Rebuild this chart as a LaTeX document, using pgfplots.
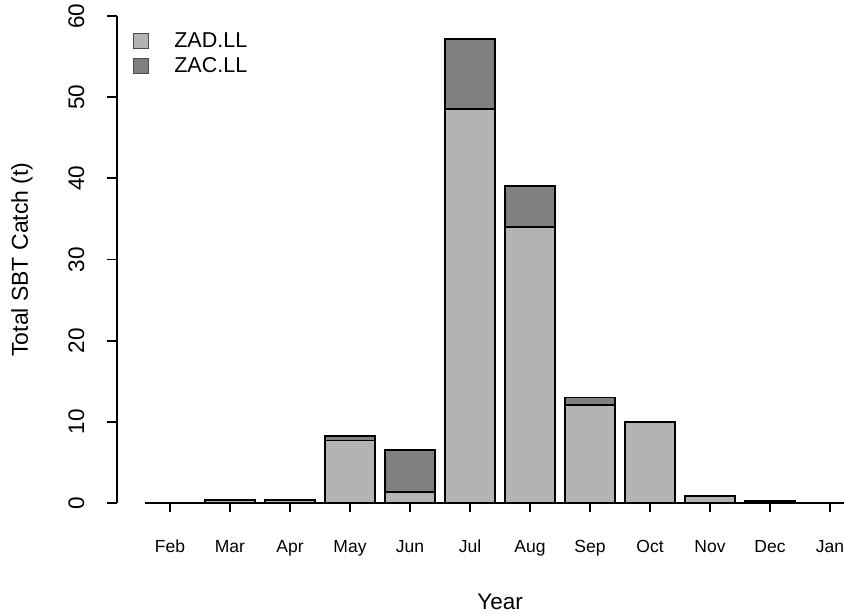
\documentclass[border=0pt]{standalone}
\usepackage{pgfplots}
\pgfplotsset{compat=1.18}
\usepackage{fontspec}
\setmainfont{Liberation Sans}

\definecolor{zadgrey}{RGB}{179,179,179}
\definecolor{zacgrey}{RGB}{128,128,128}

% Monthly catch by fleet (tonnes), months at 0..11
\pgfplotstableread{
m   zad   zac
0   0     0
1   0.4   0
2   0.4   0
3   7.7   0.6
4   1.4   5.1
5   48.5  8.7
6   34.0  5.1
7   12.1  0.9
8   10.0  0
9   0.9   0
10  0.2   0
11  0     0
}\catch

\begin{document}
\begin{tikzpicture}
\useasboundingbox (-117pt,-112pt) rectangle (727pt,503pt);
\begin{axis}[
  anchor=south west,
  at={(0pt,0pt)},
  scale only axis,
  width=727pt, height=487pt,
  xmin=-0.883, xmax=11.233,
  ymin=0, ymax=60,
  axis x line*=bottom,
  axis y line*=left,
  x axis line style={draw=none},
  y axis line style={line width=1.8pt},
  every tick/.style={black, line width=1.8pt},
  tick align=outside,
  major tick length=9.5pt,
  xtick={0,...,11},
  xticklabels={Feb,Mar,Apr,May,Jun,Jul,Aug,Sep,Oct,Nov,Dec,Jan},
  ytick={0,10,...,60},
  /pgf/number format/assume math mode=true,
  xticklabel style={font=\fontsize{17.5}{20}\selectfont, anchor=base, inner sep=0pt, yshift=-40pt},
  yticklabel style={font=\fontsize{22.5}{26}\selectfont, xshift=-23pt, rotate=90, anchor=south, inner sep=0pt},
  ylabel={Total SBT Catch (t)},
  ylabel style={font=\fontsize{23}{27}\selectfont, at={(axis description cs:-0.1307,0.5)}, anchor=center},
  xlabel={Year},
  xlabel style={font=\fontsize{22.5}{27}\selectfont, at={(axis description cs:0.527,-0.203)}, anchor=center},
  ybar stacked,
  bar width=50pt,
  clip=false,
  legend cell align=left,
  legend style={draw=none, fill=none, at={(axis description cs:0.017,0.975)}, anchor=north west,
    font=\fontsize{21.5}{25}\selectfont, row sep=5pt,
    /tikz/every odd column/.append style={column sep=24pt}},
  legend image code/.code={\draw[#1, draw=black!70, line width=0.8pt] (0pt,-7.5pt) rectangle (15pt,7.5pt);},
]
\addplot[fill=zadgrey, draw=black, line width=1.8pt] table[x=m, y=zad] {\catch};
\addplot[fill=zacgrey, draw=black, line width=1.8pt] table[x=m, y=zac] {\catch};
\legend{ZAD.LL, ZAC.LL}
\draw[line width=1.8pt] (axis cs:-0.417,0) -- (axis cs:11.233,0);
\end{axis}
\end{tikzpicture}
\end{document}
